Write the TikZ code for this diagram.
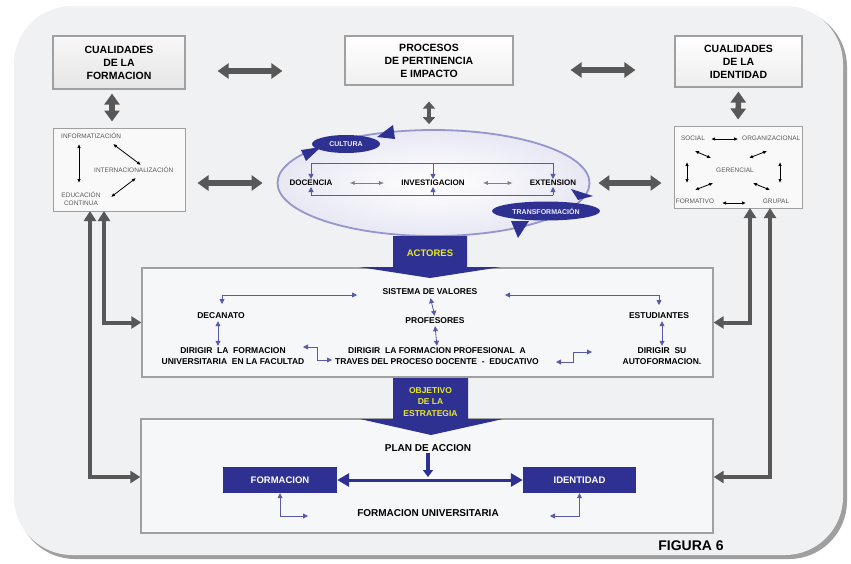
\documentclass[tikz,border=0pt]{standalone}
\usepackage{fontspec}
\setmainfont{Liberation Sans}
\usetikzlibrary{arrows.meta,shapes.geometric,calc}
\definecolor{navy}{RGB}{46,49,146}
\definecolor{bg}{RGB}{240,241,243}
\definecolor{dgray}{RGB}{88,88,88}
\definecolor{boxline}{RGB}{160,160,160}
\definecolor{ylw}{RGB}{232,232,40}
\definecolor{lav}{RGB}{150,150,205}
\definecolor{smallgray}{RGB}{90,90,90}
\tikzset{
  tbox/.style={draw=boxline, line width=1.2pt, align=center, font=\bfseries\fontsize{10.5}{13}\selectfont, inner sep=0pt},
  sbox/.style={draw=boxline, line width=1pt, fill=white!60!bg, inner sep=0pt},
  bigbox/.style={draw=boxline, line width=1.3pt, fill=white!40!bg, inner sep=0pt},
  lbl/.style={font=\bfseries\fontsize{8.5}{11}\selectfont, align=center, inner sep=1pt},
  tiny/.style={font=\fontsize{6.5}{7.5}\selectfont, text=smallgray, align=center, inner sep=1pt},
  bigdbl/.style={draw=dgray, line width=5.5pt, {Triangle[length=11pt,width=15pt]}-{Triangle[length=11pt,width=15pt]}},
  middbl/.style={draw=dgray, line width=4pt, {Triangle[length=7pt,width=12pt]}-{Triangle[length=7pt,width=12pt]}},
  chan/.style={draw=dgray, line width=4pt, {Triangle[length=10pt,width=12pt]}-{Triangle[length=10pt,width=12pt]}},
  blk/.style={draw=black, line width=0.8pt, {Latex[length=4pt,width=3.5pt]}-{Latex[length=4pt,width=3.5pt]}},
  gthin/.style={draw=gray, line width=0.9pt, {Latex[length=5pt,width=4pt]}-{Latex[length=5pt,width=4pt]}},
  bline/.style={draw=navy!80, line width=0.8pt},
  barr/.style={draw=navy!80, line width=0.8pt, -{Triangle[length=5pt,width=5pt]}},
  bdbl/.style={draw=navy!80, line width=0.8pt, {Triangle[length=5pt,width=5pt]}-{Triangle[length=5pt,width=5pt]}},
  nbox/.style={fill=navy, text=white, font=\bfseries\fontsize{9.5}{11}\selectfont, minimum width=114pt, minimum height=26pt, inner sep=0pt},
  nell/.style={ellipse, fill=navy, text=white!85!lav, font=\bfseries\fontsize{7}{8}\selectfont, inner sep=0pt},
  yl/.style={text=ylw, font=\bfseries\fontsize{9}{11}\selectfont, align=center}
}
\begin{document}
\begin{tikzpicture}[x=1pt,y=-1pt]
\useasboundingbox (0,0) rectangle (851,563);
\fill[white] (0,0) rectangle (851,563);
\fill[gray!75, rounded corners=58pt] (17,9) rectangle (847,559);
\fill[bg, rounded corners=58pt] (14,6) rectangle (843,555);

% top boxes
\node[tbox, top color=gray!6, bottom color=gray!20, minimum width=132pt, minimum height=53pt] (cf) at (119,62.5) {CUALIDADES\\DE LA\\FORMACION};
\node[tbox, top color=white, bottom color=gray!12, minimum width=168pt, minimum height=49pt] (pr) at (429,60.5) {PROCESOS\\DE PERTINENCIA\\E IMPACTO};
\node[tbox, top color=white, bottom color=gray!14, minimum width=127pt, minimum height=51pt] (ci) at (738.5,61.5) {CUALIDADES\\DE LA\\IDENTIDAD};

% small boxes
\node[sbox, minimum width=132pt, minimum height=83pt] (lb) at (119,169.5) {};
\node[sbox, minimum width=128pt, minimum height=82pt] (rb) at (738,167) {};

% central ellipse
\node[ellipse, draw=lav, line width=1.8pt, inner color=white, outer color=lav!22, minimum width=312pt, minimum height=106pt] (el) at (433.5,183) {};

% gray big arrows
\draw[bigdbl, shorten <=32pt, shorten >=62pt] (cf.east |- 0,71) -- (pr.west |- 0,71);
\draw[bigdbl, shorten <=57pt, shorten >=39pt] (pr.east |- 0,70) -- (ci.west |- 0,70);
\draw[bigdbl, shorten <=4pt, shorten >=6pt] (cf.south -| 112,0) -- (lb.north -| 112,0);
\draw[middbl, shorten <=16pt, shorten >=5pt] (pr.south) -- (pr.south |- el.north);
\draw[bigdbl, shorten <=4pt, shorten >=6pt] (ci.south) -- (rb.north);
\draw[bigdbl, shorten <=12pt, shorten >=14pt] (lb.east |- el.west) -- (el.west);
\draw[bigdbl, shorten <=8pt, shorten >=12pt] (el.east) -- (rb.west |- el.east);

% left box content
\node[tiny, anchor=west] (inf) at (60,136) {INFORMATIZACIÓN};
\node[tiny, anchor=west] (int) at (93,170) {INTERNACIONALIZACIÓN};
\node[tiny] (edu) at (81,198.5) {EDUCACIÓN\\CONTINUA};
\coordinate (i1) at (79,144); \coordinate (i2) at (79,183);
\coordinate (i3) at (113,144); \coordinate (i4) at (141,165);
\coordinate (i5) at (136,178); \coordinate (i6) at (111,197);
\draw[blk] (i1) -- (i2);
\draw[blk] (i3) -- (i4);
\draw[blk] (i5) -- (i6);

% right box content
\node[tiny] (soc) at (693,138) {SOCIAL};
\node[tiny, anchor=west] (org) at (741,138) {ORGANIZACIONAL};
\node[tiny] (ger) at (735,170) {GERENCIAL};
\node[tiny] (forv) at (695,201) {FORMATIVO};
\node[tiny] (gru) at (776,201) {GRUPAL};
\draw[blk] (soc.east) ++(5,1) -- ++(27,0);
\coordinate (r1) at (695,151); \coordinate (r2) at (711,158);
\coordinate (r3) at (749,158); \coordinate (r4) at (767,151);
\coordinate (r5) at (687,162); \coordinate (r6) at (687,183);
\coordinate (r7) at (780,162); \coordinate (r8) at (780,183);
\coordinate (r9) at (695,190); \coordinate (r10) at (713,183);
\coordinate (r11) at (753,183); \coordinate (r12) at (770,190);
\coordinate (r13) at (722,203); \coordinate (r14) at (746,203);
\draw[blk] (r1) -- (r2);
\draw[blk] (r3) -- (r4);
\draw[blk] (r5) -- (r6);
\draw[blk] (r7) -- (r8);
\draw[blk] (r9) -- (r10);
\draw[blk] (r11) -- (r12);
\draw[blk] (r13) -- (r14);

% ellipse content
\node[lbl, font=\bfseries\fontsize{8}{10}\selectfont] (doc) at (311,183) {DOCENCIA};
\node[lbl, font=\bfseries\fontsize{8}{10}\selectfont] (inv) at (433,183) {INVESTIGACION};
\node[lbl, font=\bfseries\fontsize{8}{10}\selectfont] (ext) at (553,183) {EXTENSION};
\coordinate (ta) at (311,163); \coordinate (tb) at (433,163); \coordinate (tc) at (553,163);
\coordinate (ba) at (311,195); \coordinate (bb2) at (433,195); \coordinate (bc) at (553,195);
\draw[bline] (ta) -- (tc);
\draw[bline] (ba) -- (bc);
\draw[barr] (ta) -- (doc.north);
\draw[barr] (tb) -- (inv.north);
\draw[barr] (tc) -- (ext.north);
\draw[barr] (ba) -- (doc.south);
\draw[barr] (bb2) -- (inv.south);
\draw[barr] (bc) -- (ext.south);
\draw[gthin, shorten <=16pt, shorten >=16pt] (doc.east) -- (inv.west);
\draw[gthin, shorten <=17pt, shorten >=16pt] (inv.east) -- (ext.west);

% cultura / transformacion
\node[nell, minimum width=68pt, minimum height=18pt] (cul) at (346,144) {CULTURA};
\node[nell, minimum width=108pt, minimum height=19pt] (tra) at (546,211) {TRANSFORMACIÓN};
\fill[navy] (377,137) -- (393,125) -- (395,139) -- cycle;
\fill[navy] (301,150) -- (321,147) -- (306,161) -- cycle;
\fill[navy] (571,189) -- (593,196) -- (578,200) -- cycle;
\fill[navy] (511,221) -- (529,221) -- (518,238) -- cycle;

% big boxes
\node[bigbox, minimum width=571pt, minimum height=109pt] (ab) at (427.5,322.5) {};
\node[bigbox, minimum width=572pt, minimum height=114pt] (bx) at (427,476) {};

% actores arrow
\fill[navy] (393,236) -- (467,236) -- (467,267) -- (501,267) -- (430,278) -- (359,267) -- (393,267) -- cycle;
\node[yl, font=\bfseries\fontsize{9.5}{11}\selectfont] (act) at (430,253.5) {ACTORES};

% objetivo arrow
\fill[navy] (393,378) -- (468,378) -- (468,419) -- (503,419) -- (431,435) -- (360,419) -- (393,419) -- cycle;
\node[yl, font=\bfseries\fontsize{8.5}{11.3}\selectfont] (obj) at (430.5,402) {OBJETIVO\\DE LA\\ESTRATEGIA};

% actores content
\node[lbl] (sv) at (430,292) {SISTEMA DE VALORES};
\node[lbl] (dec) at (221,316) {DECANATO};
\node[lbl] (prof) at (435,321) {PROFESORES};
\node[lbl] (est) at (659,316) {ESTUDIANTES};
\node[lbl, font=\bfseries\fontsize{8.5}{11}\selectfont] (d1) at (233,356.5) {DIRIGIR \ LA \ FORMACION\\UNIVERSITARIA \ EN LA FACULTAD};
\node[lbl, font=\bfseries\fontsize{8.5}{11}\selectfont] (d2) at (437,356.5) {DIRIGIR \ LA FORMACION PROFESIONAL \ A\\TRAVES DEL PROCESO DOCENTE \ - \ EDUCATIVO};
\node[lbl, font=\bfseries\fontsize{8.5}{11}\selectfont] (d3) at (662,356.5) {DIRIGIR \ SU\\AUTOFORMACION.};
\coordinate (a1) at (222,304); \coordinate (a2) at (357,295);
\coordinate (a3) at (505,295); \coordinate (a4) at (659,305);
\draw[bdbl] (a1) |- (a2);
\draw[bdbl] (a3) -| (a4);
\draw[bdbl, shorten <=2pt, shorten >=1pt] (sv.south) -- (prof.north);
\draw[bdbl, shorten <=1pt, shorten >=1pt] (prof.south) -- (d2.north);
\draw[bdbl, shorten <=1pt, shorten >=1pt] (dec.south -| 218,0) -- (d1.north -| 218,0);
\draw[bdbl, shorten <=1pt, shorten >=1pt] (est.south -| 662,0) -- (d3.north -| 662,0);
\coordinate (e1) at (303,347); \coordinate (e2) at (332,360);
\coordinate (e3) at (556,362); \coordinate (e4) at (592,352);
\draw[bdbl] (e1) -- (317,347) -- (317,360) -- (e2);
\draw[bdbl] (e3) -- (573,362) -- (573,352) -- (e4);

% channels
\coordinate (L1) at (104,211); \coordinate (L2) at (90,211);
\coordinate (R1) at (750,208); \coordinate (R2) at (770,208);
\draw[chan] (L1) |- (ab.west);
\draw[chan] (L2) |- (bx.west |- 0,477);
\draw[chan] (R1) |- (ab.east);
\draw[chan] (R2) |- (bx.east |- 0,477);

% bottom content
\node[lbl, font=\bfseries\fontsize{10}{12}\selectfont] (plan) at (428,448) {PLAN DE ACCION};
\node[nbox] (fo) at (280,480) {FORMACION};
\node[nbox, minimum width=113pt] (id) at (579.5,480) {IDENTIDAD};
\draw[navy, line width=3pt, {Triangle[length=12pt,width=13pt]}-{Triangle[length=12pt,width=13pt]}] (fo.east) -- (id.west);
\coordinate (pd) at (428,477);
\draw[navy, line width=3.5pt, -{Triangle[length=7pt,width=10pt]}] (plan.south) -- (pd);
\node[lbl, font=\bfseries\fontsize{10}{12}\selectfont] (fu) at (428,513) {FORMACION UNIVERSITARIA};
\coordinate (f1) at (308,516); \coordinate (f2) at (550,516);
\draw[bdbl] (fo.south) |- (f1);
\draw[bdbl] (id.south) |- (f2);

\node[font=\bfseries\fontsize{14}{16}\selectfont] (fig) at (691,546) {FIGURA 6};
\end{tikzpicture}
\end{document}
